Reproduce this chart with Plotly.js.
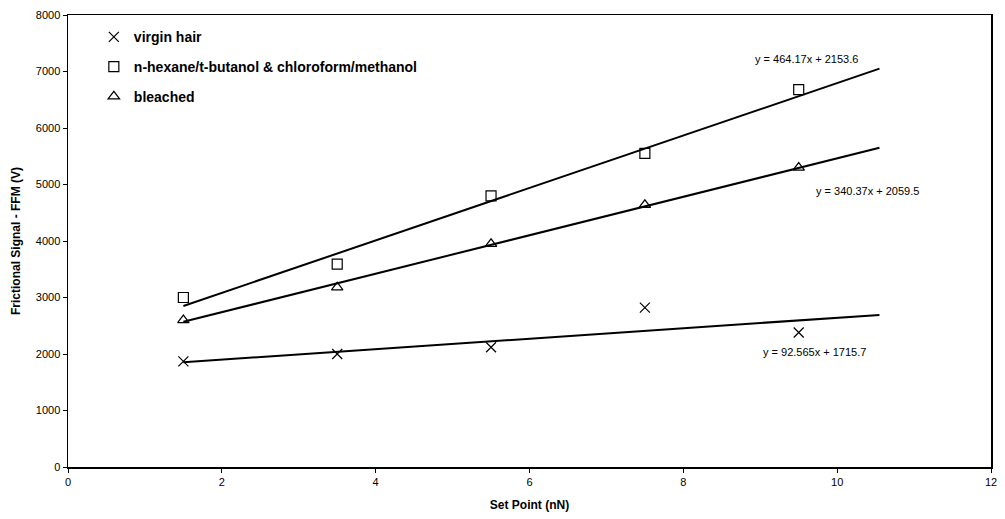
<!DOCTYPE html>
<html><head><meta charset="utf-8">
<script src="https://cdn.plot.ly/plotly-3.0.1.min.js"></script>
<style>body{margin:0;background:#fff}#c{width:1005px;height:519px}</style>
</head><body><div id="c"></div>
<script>
const setPoint = [1.5, 3.5, 5.5, 7.5, 9.5];
const virgin = [1870, 2000, 2120, 2820, 2380];
const solvent = [3000, 3590, 4800, 5550, 6680];
const bleached = [2600, 3180, 3950, 4640, 5300];
const seriesNames = ['virgin hair', 'n-hexane/t-butanol &amp; chloroform/methanol', 'bleached'];
const slopes = [92.565, 464.17, 340.37];
const intercepts = [1715.7, 2153.6, 2059.5];
const fitRange = [1.5, 10.55];
const eqLabels = ['y = 92.565x + 1715.7', 'y = 464.17x + 2153.6', 'y = 340.37x + 2059.5'];

const F = 'Arial, "Liberation Sans", sans-serif';
const symbols = ['x-thin-open', 'square-open', 'triangle-up-open'];
const data = [virgin, solvent, bleached];
const traces = [];
data.forEach((d, i) => {
  traces.push({
    x: setPoint, y: d, mode: 'markers', type: 'scatter', name: seriesNames[i],
    legendgroup: 'g' + i,
    marker: {symbol: symbols[i], size: 10, color: '#000', line: {color: '#000', width: 1.2}}
  });
});
data.forEach((d, i) => {
  traces.push({
    x: fitRange, y: fitRange.map(v => slopes[i] * v + intercepts[i]),
    mode: 'lines', type: 'scatter', showlegend: false, hoverinfo: 'skip',
    line: {color: '#000', width: 2}
  });
});

const layout = {
  width: 1005, height: 519,
  margin: {l: 68, r: 14, t: 15, b: 52},
  paper_bgcolor: '#fff', plot_bgcolor: '#fff',
  font: {family: F, color: '#000', size: 11},
  showlegend: true,
  legend: {x: 0.028, y: 0.986, xanchor: 'left', yanchor: 'top',
    font: {family: F, size: 14, weight: 'bold'}, bgcolor: 'rgba(0,0,0,0)',
    tracegroupgap: 8.5, traceorder: 'grouped', itemwidth: 30},
  xaxis: {range: [0, 12], dtick: 2, showgrid: false, zeroline: false,
    showline: true, linecolor: '#000', linewidth: 1.5, mirror: true,
    ticks: 'outside', ticklen: 4, tickcolor: '#000',
    tickfont: {size: 11, family: F},
    title: {text: 'Set Point (nN)', font: {size: 12, family: F, weight: 'bold'}, standoff: 14}},
  yaxis: {range: [0, 8000], dtick: 1000, showgrid: false, zeroline: false,
    showline: true, linecolor: '#000', linewidth: 1.5, mirror: true,
    ticks: 'outside', ticklen: 4, tickcolor: '#000',
    tickfont: {size: 11, family: F},
    title: {text: 'Frictional Signal - FFM (V)', font: {size: 12, family: F, weight: 'bold'}, standoff: 12}},
  annotations: [
    {x: 9.7, y: 2040, text: eqLabels[0], showarrow: false, xref: 'x', yref: 'y', font: {size: 11, family: F}},
    {x: 9.6, y: 7220, text: eqLabels[1], showarrow: false, xref: 'x', yref: 'y', font: {size: 11, family: F}},
    {x: 10.4, y: 4890, text: eqLabels[2], showarrow: false, xref: 'x', yref: 'y', font: {size: 11, family: F}}
  ]
};
Plotly.newPlot('c', traces, layout, {displayModeBar: false, staticPlot: true});
</script></body></html>
